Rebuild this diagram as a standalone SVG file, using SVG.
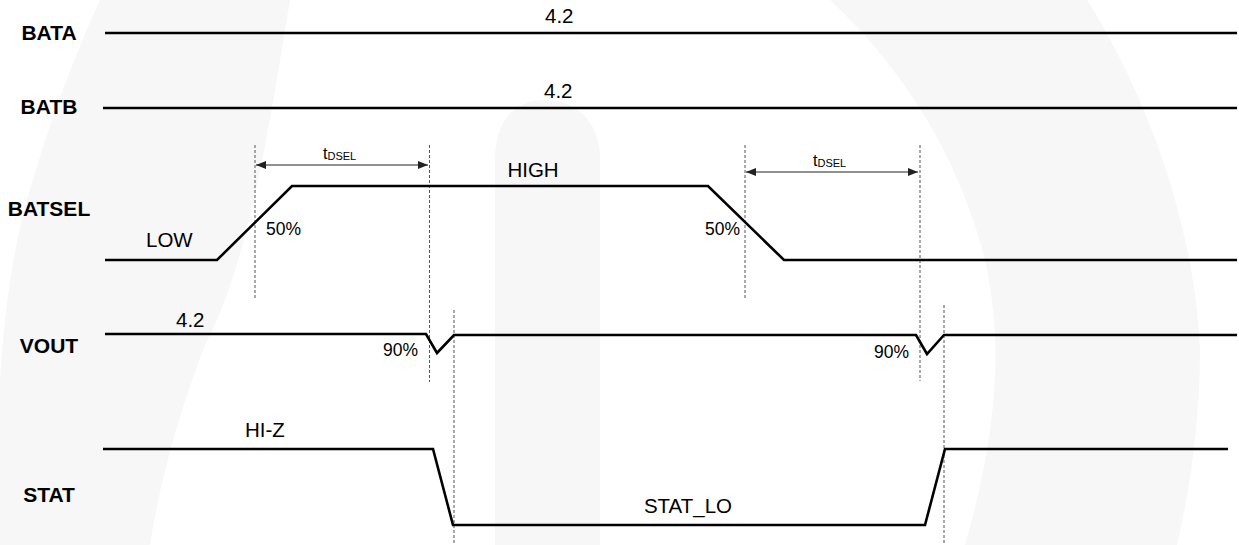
<svg xmlns="http://www.w3.org/2000/svg" width="1239" height="545" viewBox="0 0 1239 545">
<defs>
<style>
.sig{fill:none;stroke:#000;stroke-width:2.6;stroke-linejoin:miter}
.dash{fill:none;stroke:#555;stroke-width:1;stroke-dasharray:3,2}
.dim{fill:none;stroke:#222;stroke-width:1.2}
.lbl{font-family:"Liberation Sans",Arial,sans-serif;font-weight:bold;font-size:21px;fill:#000;text-anchor:middle}
.txt{font-family:"Liberation Sans",Arial,sans-serif;font-size:20.5px;fill:#000}
.pct{font-family:"Liberation Sans",Arial,sans-serif;font-size:17.5px;fill:#000}
.t{font-family:"Liberation Sans",Arial,sans-serif;font-size:16px;fill:#000}
.sub{font-size:11px}
.wm{fill:#f7f7f7}
</style>
<marker id="ah" viewBox="0 0 10 8" refX="10" refY="4" markerWidth="10" markerHeight="8" markerUnits="userSpaceOnUse" orient="auto-start-reverse">
<path d="M0,0 L10,4 L0,8 Z" fill="#222"/>
</marker>
</defs>
<rect width="1239" height="545" fill="#fff"/>
<g id="watermark">
<path class="wm" d="M100,0 L290,0 C270,120 250,260 205,345 C180,410 160,480 150,545 L0,545 L0,380 C5,300 15,240 30,190 C50,120 75,55 100,0 Z"/>
<path class="wm" d="M495,545 L495,160 C495,120 515,100 545,100 C575,100 600,120 600,160 L600,545 Z"/>
<path class="wm" d="M830,0 L1087,0 C1150,100 1195,230 1200,350 C1200,420 1190,490 1177,545 L965,545 C995,440 1005,350 985,260 C960,160 905,70 830,0 Z"/>
</g>
<g id="connectors">
<line class="dash" x1="255" y1="145" x2="255" y2="298"/>
<line class="dash" x1="429.5" y1="145" x2="429.5" y2="382"/>
<line class="dash" x1="745" y1="145" x2="745" y2="298"/>
<line class="dash" x1="920" y1="145" x2="920" y2="381"/>
<line class="dash" x1="454" y1="310" x2="454" y2="545"/>
<line class="dash" x1="944" y1="305" x2="944" y2="545"/>
<line class="dim" x1="256" y1="165" x2="428" y2="165" marker-start="url(#ah)" marker-end="url(#ah)"/>
<line class="dim" x1="746" y1="172" x2="918" y2="172" marker-start="url(#ah)" marker-end="url(#ah)"/>
</g>
<g id="BATA">
<text class="lbl" x="49" y="40">BATA</text>
<path class="sig" d="M105,33 H1237"/>
<text class="txt" x="545" y="23">4.2</text>
</g>
<g id="BATB">
<text class="lbl" x="49" y="114">BATB</text>
<path class="sig" d="M103,108 H1237"/>
<text class="txt" x="544" y="98">4.2</text>
</g>
<g id="BATSEL">
<text class="lbl" x="49" y="216">BATSEL</text>
<path class="sig" d="M105,260 H217 L292,186 H708 L784,260 H1237"/>
<text class="txt" x="146" y="247">LOW</text>
<text class="txt" x="533" y="177" text-anchor="middle">HIGH</text>
<text class="pct" x="266" y="235">50%</text>
<text class="pct" x="705" y="235">50%</text>
<text class="t" x="323" y="159">t<tspan class="sub" dy="1">DSEL</tspan></text>
<text class="t" x="813" y="166">t<tspan class="sub" dy="1">DSEL</tspan></text>
</g>
<g id="VOUT">
<text class="lbl" x="49" y="353">VOUT</text>
<path class="sig" d="M105,334 H426 L437,353 L454,335 H916 L927,354 L944,335 H1237"/>
<text class="txt" x="176" y="327">4.2</text>
<text class="pct" x="418" y="356" text-anchor="end">90%</text>
<text class="pct" x="909" y="358" text-anchor="end">90%</text>
</g>
<g id="STAT">
<text class="lbl" x="49" y="502">STAT</text>
<path class="sig" d="M103,449 H433 L453,525 H925 L945,449 H1228"/>
<text class="txt" x="245" y="437">HI-Z</text>
<text class="txt" x="688" y="513" text-anchor="middle">STAT_LO</text>
</g>
</svg>
